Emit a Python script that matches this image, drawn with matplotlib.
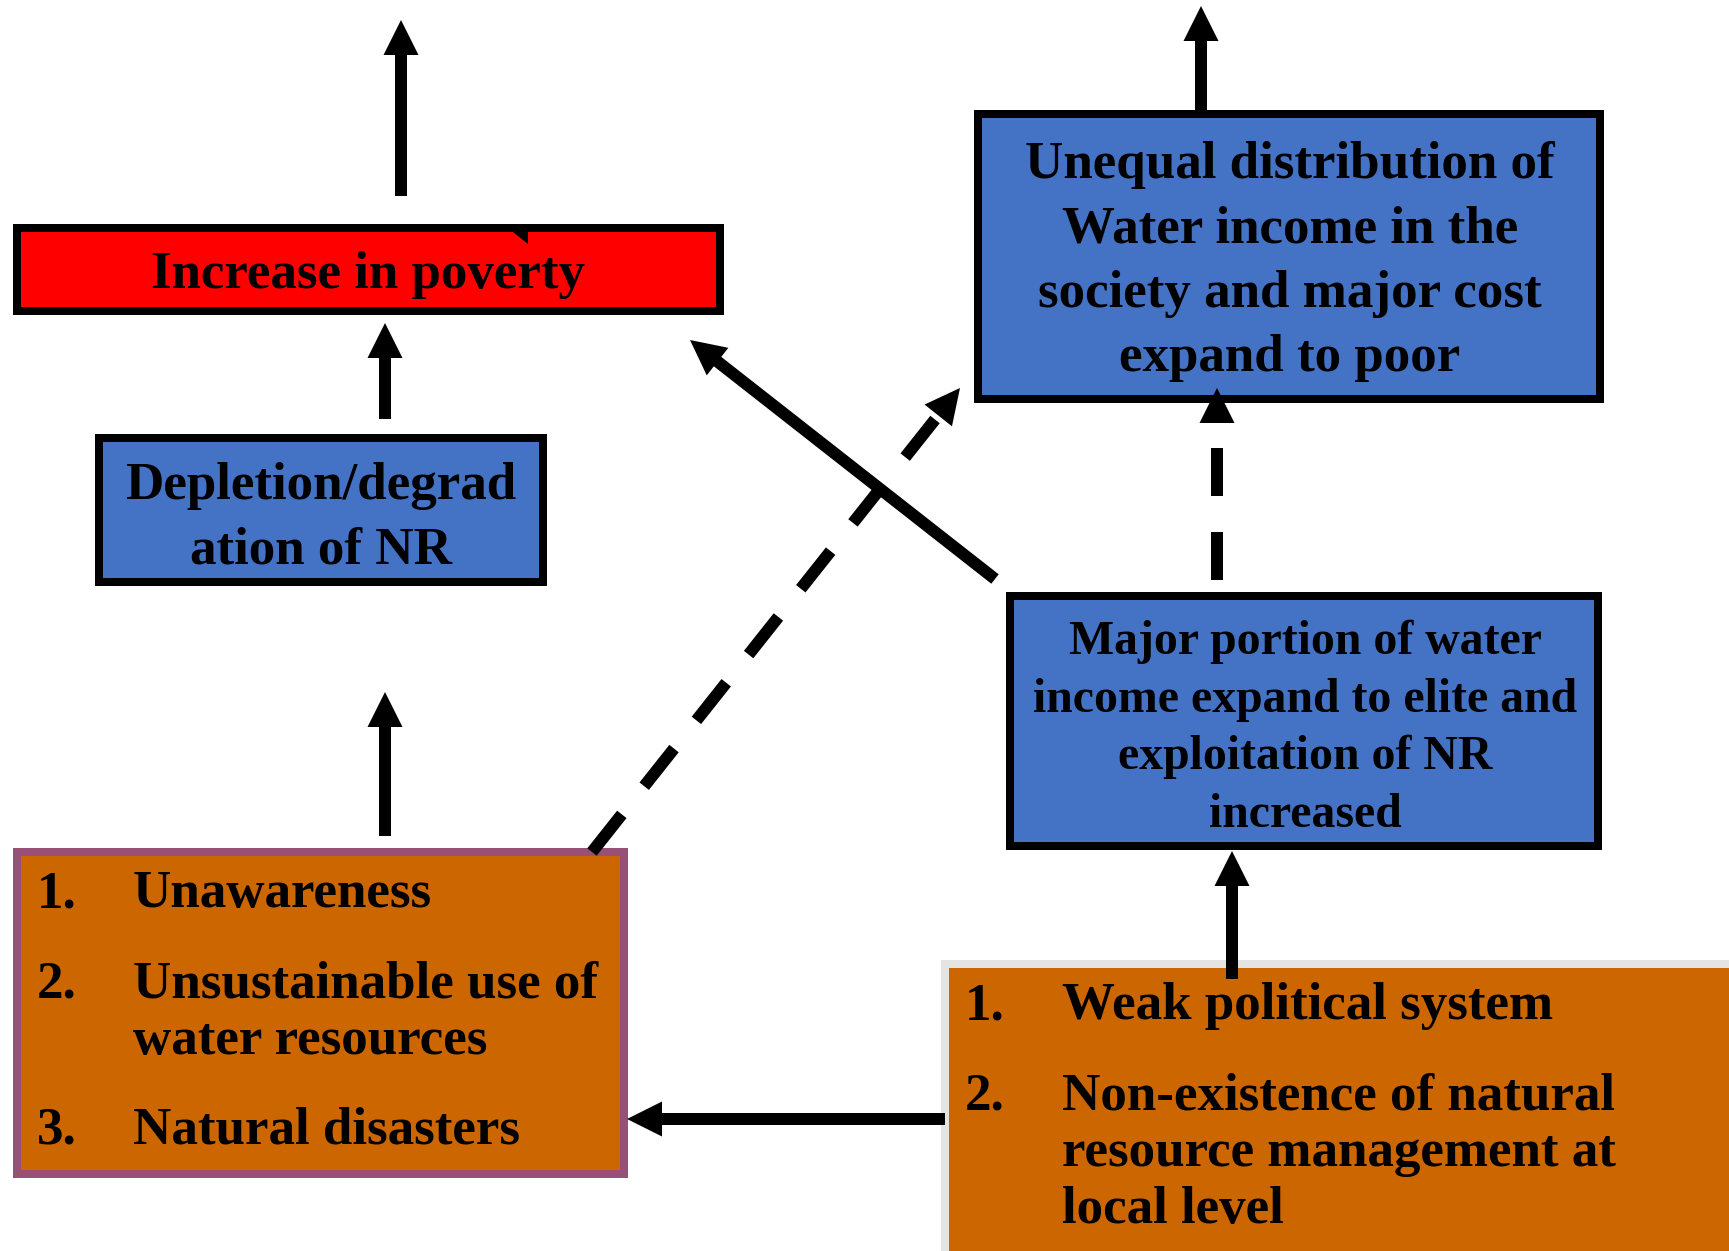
import math
import matplotlib
matplotlib.use("Agg")
import matplotlib.pyplot as plt
from matplotlib.patches import Rectangle, FancyArrow, Polygon

# ---- text content ----
poverty_text = ["Increase in poverty"]
unequal_text = ["Unequal distribution of", "Water income in the",
                "society and major cost", "expand to poor"]
depletion_text = ["Depletion/degrad", "ation of NR"]
major_text = ["Major portion of water", "income expand to elite and",
              "exploitation of NR", "increased"]
left_numbers = ["1.", "2.", "", "3."]
left_items = ["Unawareness", "Unsustainable use of", "water resources",
              "Natural disasters"]
right_numbers = ["1.", "2.", "", ""]
right_items = ["Weak political system", "Non-existence of natural",
               "resource management at", "local level"]

# ---- colours ----
BLUE = "#4472C4"
RED = "#FF0000"
ORANGE = "#CC6600"
PURPLE = "#985076"
GRAY = "#E4E4E4"

W, H, DPI = 1729, 1251, 100
PX = 72.0 / DPI  # points per pixel

fig = plt.figure(figsize=(W / DPI, H / DPI), dpi=DPI)
ax = fig.add_axes([0, 0, 1, 1])
ax.set_xlim(0, W)
ax.set_ylim(H, 0)
ax.axis("off")

FONT = "Liberation Serif"
FS_BIG = 53 * PX
FS_MID = 47.7 * PX
BORDER = 8 * PX


def box(x0, y0, x1, y1, face, edge, lw=BORDER, z=1):
    # x0..x1 / y0..y1 are outer edges; stroke is centred on the rectangle edge
    h = 4
    ax.add_patch(Rectangle((x0 + h, y0 + h), x1 - x0 - 2 * h, y1 - y0 - 2 * h,
                           facecolor=face, edgecolor=edge, linewidth=lw,
                           joinstyle="miter", zorder=z))


def centred_lines(lines, cx, y0, step, fs):
    for i, s in enumerate(lines):
        ax.text(cx, y0 + i * step, s, ha="center", va="baseline",
                fontsize=fs, fontweight="bold", family=FONT, color="black",
                zorder=6)


def list_lines(nums, items, xn, xt, baselines, fs):
    for n, s, yb in zip(nums, items, baselines):
        if n:
            ax.text(xn, yb, n, ha="left", va="baseline", fontsize=fs,
                    fontweight="bold", family=FONT, color="black", zorder=6)
        ax.text(xt, yb, s, ha="left", va="baseline", fontsize=fs,
                fontweight="bold", family=FONT, color="black", zorder=6)


SHAFT = 12
HEAD_W = 35
HEAD_L = 35


def arrow(x0, y0, x1, y1, dashed=False):
    dx, dy = x1 - x0, y1 - y0
    L = math.hypot(dx, dy)
    ux, uy = dx / L, dy / L
    if not dashed:
        ax.add_patch(FancyArrow(x0, y0, dx, dy, width=SHAFT, head_width=HEAD_W,
                                head_length=HEAD_L, length_includes_head=True,
                                color="black", linewidth=0, zorder=5))
    else:
        bx, by = x1 - ux * HEAD_L, y1 - uy * HEAD_L
        ax.plot([x0, bx], [y0, by], color="black", lw=SHAFT * PX,
                linestyle=(0, (4, 3)), dash_capstyle="butt",
                solid_capstyle="butt", zorder=5)
        px_, py_ = -uy, ux
        ax.add_patch(Polygon([(x1, y1),
                              (bx + px_ * HEAD_W / 2, by + py_ * HEAD_W / 2),
                              (bx - px_ * HEAD_W / 2, by - py_ * HEAD_W / 2)],
                             closed=True, color="black", linewidth=0, zorder=5))


# ---- boxes ----
box(13, 224, 724, 315, RED, "black")                 # Increase in poverty
box(974, 110, 1604, 403, BLUE, "black")              # Unequal distribution
box(95, 434, 547, 586, BLUE, "black")                # Depletion
box(1006, 592, 1602, 850, BLUE, "black")             # Major portion
box(13, 848, 628, 1178, ORANGE, PURPLE)              # left causes
box(941, 960, 1760, 1290, ORANGE, GRAY)              # right causes

# small arrow-tip artefact at top of the red box
ax.add_patch(Polygon([(513, 231.5), (528.5, 231.5), (528.5, 243.5)],
                     closed=True, color="black", linewidth=0, zorder=5))

# ---- texts ----
centred_lines(poverty_text, 368.5, 288, 64.5, FS_BIG)
centred_lines(unequal_text, 1290, 178, 64.5, FS_BIG)
centred_lines(depletion_text, 321, 499, 64, FS_BIG)
centred_lines(major_text, 1305, 654, 57.6, FS_MID)
list_lines(left_numbers, left_items, 37, 133, [907, 997, 1054, 1143], FS_BIG)
list_lines(right_numbers, right_items, 965, 1062, [1019, 1109, 1166, 1223], FS_BIG)

# ---- arrows ----
arrow(401, 196, 401, 20)          # above poverty
arrow(385, 419, 385, 323)         # depletion -> poverty
arrow(385, 836, 385, 692)         # left causes -> depletion
arrow(1201, 114, 1201, 6)         # above unequal
arrow(945, 1119, 627, 1119)       # right causes -> left causes
arrow(1232, 979, 1232, 851)       # right causes -> major
arrow(1217, 580, 1217, 388, dashed=True)   # major -> unequal
arrow(995, 579, 690, 340)         # major -> poverty
arrow(592, 852, 960, 388, dashed=True)     # left causes -> unequal

fig.savefig("out.png", dpi=DPI, facecolor="white")
